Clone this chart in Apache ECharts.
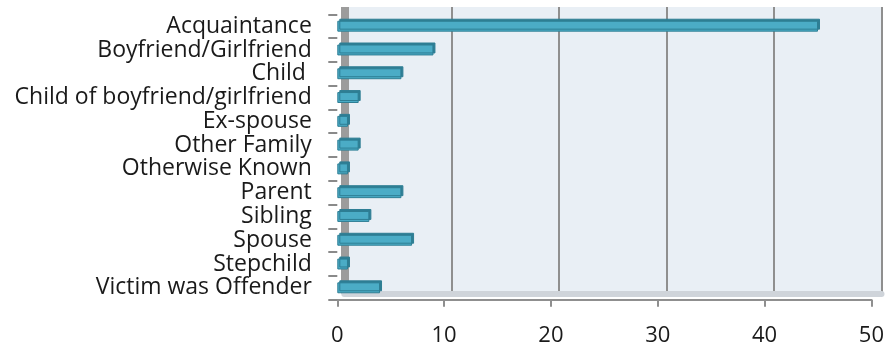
<!DOCTYPE html>
<html><head><meta charset="utf-8">
<script src="https://cdn.jsdelivr.net/npm/echarts@6/dist/echarts.min.js"></script>
<style>html,body{margin:0;padding:0;background:#fff}#c{width:887px;height:347px}</style>
</head><body><div id="c"></div>
<script>
const categories = ["Acquaintance","Boyfriend/Girlfriend","Child ","Child of boyfriend/girlfriend","Ex-spouse","Other Family","Otherwise Known","Parent","Sibling","Spouse","Stepchild","Victim was Offender"];
const values = [45,9,6,2,1,2,1,6,3,7,1,4];
const xTicks = [0,10,20,30,40,50];

const chart = echarts.init(document.getElementById('c'));
const font = "'Open Sans', Lato, sans-serif";
const xMin = xTicks[0], xMax = xTicks[xTicks.length-1];
chart.setOption({
  animation:false,
  grid:[
    // back wall
    {left:344.3,right:5.5,top:7,bottom:53.5,show:true,backgroundColor:'#E9EFF5',borderWidth:0},
    // front plane (axes, bars)
    {left:337.3,right:13.3,top:14.3,bottom:47.3}
  ],
  xAxis:[
    {gridIndex:0,type:'value',min:xMin,max:xMax,interval:10,
      axisLine:{show:true,lineStyle:{color:'#cfd4da',width:6}},
      axisTick:{show:false},axisLabel:{show:false},
      splitLine:{show:true,lineStyle:{color:'#8f8f8f',width:2}}},
    {gridIndex:1,type:'value',min:xMin,max:xMax,interval:10,
      axisLine:{show:true,lineStyle:{color:'#8f8f8f',width:2}},
      axisTick:{show:true,length:7,lineStyle:{color:'#8f8f8f',width:2}},
      splitLine:{show:false},
      axisLabel:{margin:25,fontSize:22,color:'#1a1a1a',fontFamily:font}}
  ],
  yAxis:[
    {gridIndex:0,type:'value',min:0,max:1,offset:4,
      axisLine:{show:true,lineStyle:{color:'#9c9c9c',width:8,cap:'butt'}},
      axisTick:{show:false},axisLabel:{show:false},splitLine:{show:false}},
    {gridIndex:1,type:'category',data:categories,inverse:true,
      axisLine:{show:false},
      axisTick:{show:true,length:9,lineStyle:{color:'#8a8a8a',width:2}},
      axisLabel:{interval:0,margin:25.5,fontSize:23,lineHeight:24,color:'#1a1a1a',fontFamily:font}}
  ],
  series:[{type:'bar',xAxisIndex:1,yAxisIndex:1,data:values,barWidth:'46%',
    itemStyle:{color:'#4BACC6',borderColor:'#2E7E94',borderWidth:1,
      shadowColor:'#2E7E94',shadowOffsetX:2,shadowOffsetY:-2,shadowBlur:0}}]
});
</script></body></html>
